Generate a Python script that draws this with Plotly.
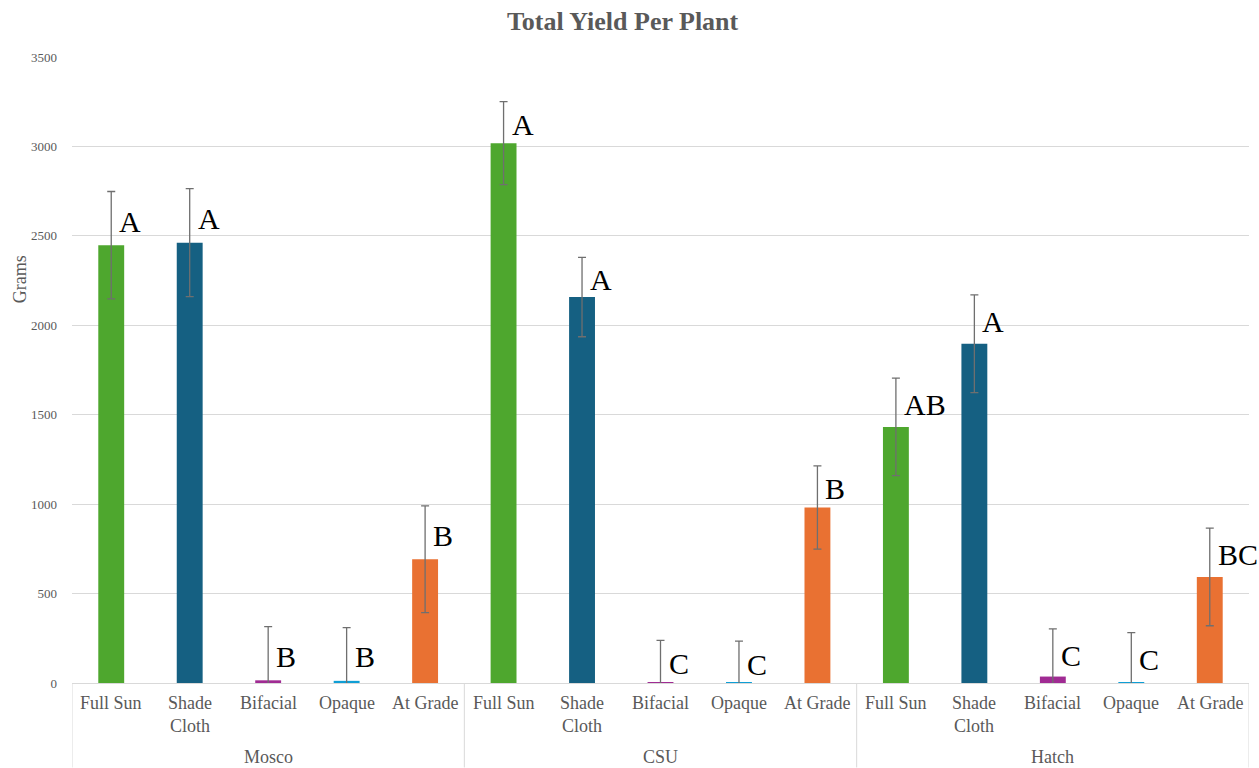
import plotly.graph_objects as go

# Sites (outer axis level) and treatments (inner axis level)
sites = ["Mosco", "CSU", "Hatch"]
treatments = ["Full Sun", "Shade Cloth", "Bifacial", "Opaque", "At Grade"]
treatment_labels = ["Full Sun", "Shade<br>Cloth", "Bifacial", "Opaque", "At Grade"]
treatment_colors = ["#4EA72E", "#156082", "#A02B93", "#0F9ED5", "#E97132"]

# Mean total yield per plant (grams), per site
mosco_yield = [2448, 2462, 15, 12, 692]
csu_yield = [3018, 2158, 5, 1, 981]
hatch_yield = [1432, 1897, 36, 5, 593]

# Error (grams), per site
mosco_err = [300, 302, 300, 298, 298]
csu_err = [232, 222, 233, 233, 233]
hatch_err = [273, 273, 267, 277, 273]

# Mean-separation letters
mosco_letters = ["A", "A", "B", "B", "B"]
csu_letters = ["A", "A", "C", "C", "B"]
hatch_letters = ["AB", "A", "C", "C", "BC"]

yields = [mosco_yield, csu_yield, hatch_yield]
errs = [mosco_err, csu_err, hatch_err]
letters = [mosco_letters, csu_letters, hatch_letters]

SERIF = "Liberation Serif"
GREY_TXT = "#595959"
GRID = "#d9d9d9"

x_pos, y_val, e_val, colors, ticktext, lett = [], [], [], [], [], []
for s in range(len(sites)):
    for t in range(len(treatments)):
        x_pos.append(s * len(treatments) + t)
        y_val.append(yields[s][t])
        e_val.append(errs[s][t])
        colors.append(treatment_colors[t])
        ticktext.append(treatment_labels[t])
        lett.append(letters[s][t])

fig = go.Figure()
fig.add_trace(go.Bar(
    x=x_pos,
    y=y_val,
    width=0.33,
    marker=dict(color=colors, line=dict(width=0)),
    error_y=dict(type="data", array=e_val, visible=True,
                 color="#6f6f6f", thickness=1.3, width=4),
    hoverinfo="y",
    showlegend=False,
))

annotations = []
# Letters beside each error bar
for xi, yi, ei, li in zip(x_pos, y_val, e_val, lett):
    annotations.append(dict(
        x=xi, y=yi + 0.45 * ei, xref="x", yref="y",
        text=li, showarrow=False, xanchor="left", yanchor="middle",
        xshift=6, font=dict(family=SERIF, size=30, color="#000000"),
    ))

# Treatment labels under the axis
for xi, tt in zip(x_pos, ticktext):
    annotations.append(dict(
        x=xi, y=0, xref="x", yref="paper", text=tt, showarrow=False,
        xanchor="center", yanchor="top", yshift=-8,
        font=dict(family=SERIF, size=18, color=GREY_TXT),
    ))

# Site labels
for s, name in enumerate(sites):
    annotations.append(dict(
        x=s * len(treatments) + (len(treatments) - 1) / 2, y=0,
        xref="x", yref="paper", text=name, showarrow=False,
        xanchor="center", yanchor="middle", yshift=-74,
        font=dict(family=SERIF, size=18, color=GREY_TXT),
    ))

# Y-axis title
annotations.append(dict(
    x=0, y=0.645, xref="paper", yref="paper", text="Grams", showarrow=False,
    textangle=-90, xanchor="center", yanchor="middle", xshift=-52,
    font=dict(family=SERIF, size=18, color=GREY_TXT),
))

# Dividers between site groups
plot_h = 768 - 57 - 84.5
shapes = []
for s in range(len(sites) + 1):
    xd = s * len(treatments) - 0.5
    shapes.append(dict(
        type="line", xref="x", yref="paper", x0=xd, x1=xd,
        y0=0, y1=-84.5 / plot_h, line=dict(color=GRID, width=1),
    ))

fig.update_layout(
    width=1259, height=768,
    margin=dict(l=72, r=10, t=57, b=84.5),
    paper_bgcolor="white", plot_bgcolor="white",
    title=dict(text="<b>Total Yield Per Plant</b>", x=0.4945, xanchor="center",
               y=1 - 21 / 768, yanchor="middle", yref="container",
               font=dict(family=SERIF, size=26, color=GREY_TXT)),
    xaxis=dict(range=[-0.5, 14.5], showticklabels=False, showgrid=False,
               zeroline=False, showline=True, linecolor=GRID, linewidth=1,
               ticks=""),
    yaxis=dict(range=[0, 3500], tickvals=list(range(0, 3501, 500)),
               showgrid=True, gridcolor=GRID, gridwidth=1, zeroline=False,
               showline=False, ticks="", ticklabelstandoff=14,
               tickfont=dict(family=SERIF, size=13, color=GREY_TXT)),
    annotations=annotations,
    shapes=shapes,
    bargap=0.67,
)

fig.write_html("out.html")
